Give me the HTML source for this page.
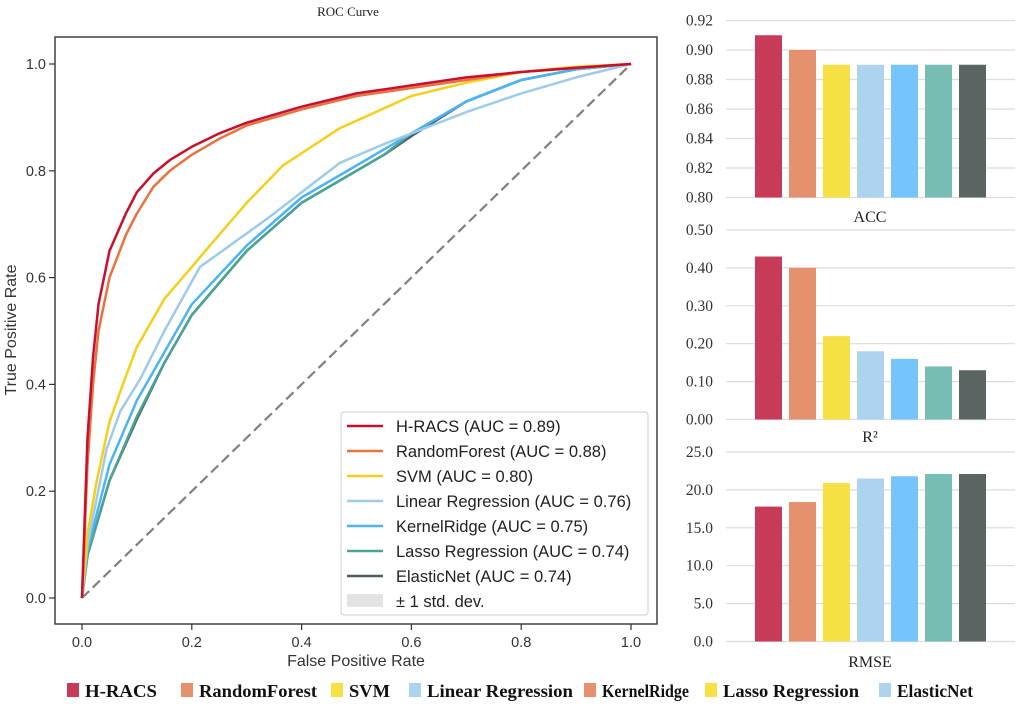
<!DOCTYPE html>
<html><head><meta charset="utf-8">
<style>
html,body{margin:0;padding:0;background:#fff;}
svg{display:block;}
.sans{font-family:"Liberation Sans",sans-serif;}
.serif{font-family:"Liberation Serif",serif;}
</style></head>
<body>
<svg id="chart" width="1020" height="707" viewBox="0 0 1020 707"></svg>
<script>
// ---------- DATA ----------
const rocNames = ["H-RACS","RandomForest","SVM","Linear Regression","KernelRidge","Lasso Regression","ElasticNet"];
const rocAuc = ["0.89","0.88","0.80","0.76","0.75","0.74","0.74"];
const rocColors = ["#c8102e","#e8723e","#f5cf1b","#9ecbe8","#4db3f5","#4aa394","#4d5e5e"];
const fprHRACS = [0,0.005,0.01,0.02,0.03,0.05,0.08,0.1,0.13,0.16,0.2,0.25,0.3,0.4,0.5,0.6,0.7,0.8,0.9,1];
const tprHRACS = [0,0.15,0.3,0.45,0.55,0.65,0.72,0.76,0.795,0.82,0.845,0.87,0.89,0.92,0.945,0.96,0.975,0.985,0.993,1];
const fprRF = [0,0.005,0.01,0.02,0.03,0.05,0.08,0.1,0.13,0.16,0.2,0.25,0.3,0.4,0.5,0.6,0.7,0.8,1];
const tprRF = [0,0.12,0.25,0.4,0.5,0.6,0.68,0.72,0.77,0.8,0.83,0.86,0.885,0.915,0.94,0.955,0.97,0.985,1];
const fprSVM = [0,0.01,0.027,0.05,0.078,0.1,0.15,0.2,0.233,0.3,0.366,0.47,0.6,0.7,0.8,0.9,1];
const tprSVM = [0,0.12,0.22,0.33,0.41,0.47,0.56,0.62,0.66,0.74,0.81,0.88,0.94,0.965,0.985,0.995,1];
const fprLR = [0,0.01,0.045,0.07,0.106,0.15,0.215,0.337,0.47,0.55,0.6,0.7,0.8,0.9,1];
const tprLR = [0,0.1,0.28,0.35,0.41,0.5,0.62,0.71,0.815,0.85,0.87,0.91,0.945,0.975,1];
const fprKR = [0,0.01,0.05,0.1,0.15,0.2,0.3,0.4,0.5,0.6,0.7,0.8,0.9,1];
const tprKR = [0,0.09,0.25,0.37,0.46,0.55,0.66,0.75,0.81,0.87,0.93,0.97,0.99,1];
const fprLasso = [0,0.01,0.05,0.1,0.15,0.2,0.3,0.4,0.5,0.55,0.6,0.7,0.8,0.9,1];
const tprLasso = [0,0.08,0.22,0.34,0.44,0.53,0.65,0.74,0.8,0.83,0.87,0.93,0.97,0.99,1];
const fprEN = [0,0.01,0.05,0.1,0.15,0.2,0.3,0.4,0.5,0.55,0.6,0.7,0.8,0.9,1];
const tprEN = [0,0.08,0.22,0.335,0.44,0.53,0.65,0.74,0.8,0.83,0.865,0.93,0.97,0.99,1];
const rocTicks = [0,0.2,0.4,0.6,0.8,1.0];
const rocTickLabels = ["0.0","0.2","0.4","0.6","0.8","1.0"];

const barColors = ["#c73a58","#e6916e","#f7e044","#aed3ef","#75c5fc","#77bdb4","#5a6463"];
const accValues = [0.91,0.90,0.89,0.89,0.89,0.89,0.89];
const accTicks = [0.80,0.82,0.84,0.86,0.88,0.90,0.92];
const accTickLabels = ["0.80","0.82","0.84","0.86","0.88","0.90","0.92"];
const r2Values = [0.43,0.40,0.22,0.18,0.16,0.14,0.13];
const r2Ticks = [0,0.1,0.2,0.3,0.4,0.5];
const r2TickLabels = ["0.00","0.10","0.20","0.30","0.40","0.50"];
const rmseValues = [17.8,18.4,20.9,21.5,21.8,22.1,22.1];
const rmseTicks = [0,5,10,15,20,25];
const rmseTickLabels = ["0.0","5.0","10.0","15.0","20.0","25.0"];

const legendNames = ["H-RACS","RandomForest","SVM","Linear Regression","KernelRidge","Lasso Regression","ElasticNet"];
const legendColors = ["#c73a58","#e6916e","#f7e044","#aed3ef","#e6916e","#f7e044","#aed3ef"];

// ---------- HELPERS ----------
const svg = document.getElementById('chart');
const NS = 'http://www.w3.org/2000/svg';
function mk(tag, attrs, parent){
  const e = document.createElementNS(NS, tag);
  for (const k in attrs) e.setAttribute(k, attrs[k]);
  (parent||svg).appendChild(e);
  return e;
}

// ---------- ROC ----------
const rx = f => 82 + 549*f;
const ry = t => 598 - 534*t;
const roc = mk('g', {});



let t = mk('text',{x:348,y:16,'text-anchor':'middle','font-size':13,class:'serif',fill:'#222'},roc);
t.textContent='ROC Curve';



rocTicks.forEach((v,i)=>{
  const xt = mk('line',{x1:rx(v),x2:rx(v),y1:624,y2:630,stroke:'#333','stroke-width':1.2},roc);
  
  
  const xl = mk('text',{x:rx(v),y:647,'text-anchor':'middle','font-size':14.5,class:'sans',fill:'#333'},roc);
  xl.textContent = rocTickLabels[i];
  
  
  const yt = mk('line',{x1:49,x2:55,y1:ry(v),y2:ry(v),stroke:'#333','stroke-width':1.2},roc);
  
  
  const yl = mk('text',{x:46,y:ry(v)+5,'text-anchor':'end','font-size':14.5,class:'sans',fill:'#333'},roc);
  yl.textContent = rocTickLabels[i];
  
  
});
t = mk('text',{x:356,y:666,'text-anchor':'middle','font-size':16,class:'sans',fill:'#333'},roc);
t.textContent='False Positive Rate';


t = mk('text',{x:0,y:0,'text-anchor':'middle','font-size':16,class:'sans',fill:'#333',transform:'translate(16,330) rotate(-90)'},roc);
t.textContent='True Positive Rate';



const diag = mk('line',{x1:rx(0),y1:ry(0),x2:rx(1),y2:ry(1),stroke:'#808080','stroke-width':2.2,'stroke-dasharray':'10 5'},roc);



const fprs=[fprHRACS,fprRF,fprSVM,fprLR,fprKR,fprLasso,fprEN];
const tprs=[tprHRACS,tprRF,tprSVM,tprLR,tprKR,tprLasso,tprEN];
for (let s=6;s>=0;s--){
  const pts = fprs[s].map((f,i)=>rx(f).toFixed(1)+','+ry(tprs[s][i]).toFixed(1)).join(' ');
  const pl = mk('polyline',{points:pts,fill:'none',stroke:rocColors[s],'stroke-width':2.5,'stroke-linejoin':'round'},roc);
  
  
}
const frame = mk('rect',{x:55,y:37,width:602,height:587,fill:'none',stroke:'#333','stroke-width':1.4},roc);



// legend
const lg = mk('g',{},roc);


mk('rect',{x:341,y:412,width:307,height:203,rx:3,fill:'#fff','fill-opacity':0.85,stroke:'#ccc','stroke-width':1},lg);
rocNames.forEach((n,i)=>{
  const yy = 426 + i*25;
  const ln = mk('line',{x1:347,x2:383,y1:yy,y2:yy,stroke:rocColors[i],'stroke-width':2.5},lg);
  
  
  const tx = mk('text',{x:396,y:yy+6,'font-size':16.5,class:'sans',fill:'#222'},lg);
  tx.textContent = n+' (AUC = '+rocAuc[i]+')';
  
  
});
const sd = mk('rect',{x:347,y:594,width:36,height:13,fill:'#e3e3e3'},lg);


t = mk('text',{x:396,y:607,'font-size':16.5,class:'sans',fill:'#222'},lg);
t.textContent='± 1 std. dev.';



// ---------- BAR PANELS ----------
function barPanel(name, values, ticks, labels, y0, pxPerUnit, vmin, title, titleY){
  const g = mk('g',{});
  
  
  const yOf = v => y0 - (v - vmin)*pxPerUnit;
  ticks.forEach((v,i)=>{
    const gl = mk('line',{x1:726,x2:1015,y1:yOf(v),y2:yOf(v),stroke:'#dcdcdc','stroke-width':1.2},g);
    
    
    const tl = mk('text',{x:713,y:yOf(v)+5,'text-anchor':'end','font-size':15.5,class:'serif',fill:'#333'},g);
    tl.textContent = labels[i];
    
    
  });
  values.forEach((v,i)=>{
    const x = 755 + i*34;
    const b = mk('rect',{x:x,y:yOf(v),width:27,height:y0-yOf(v),fill:barColors[i]},g);
    
    
  });
  const tt = mk('text',{x:870,y:titleY,'text-anchor':'middle','font-size':16,class:'serif',fill:'#222'},g);
  tt.textContent = title;
  
  
}
barPanel('acc', accValues, accTicks, accTickLabels, 197.5, 1475, 0.80, 'ACC', 222);
barPanel('r2', r2Values, r2Ticks, r2TickLabels, 419.5, 379, 0, 'R²', 442);
barPanel('rmse', rmseValues, rmseTicks, rmseTickLabels, 641.5, 7.58, 0, 'RMSE', 667);

// ---------- BOTTOM LEGEND ----------
const bl = mk('g',{});


const sqX = [67,181,331,409,584,705,879];
const txW = [72,118,41,146,87,136,76];
legendNames.forEach((n,i)=>{
  const sq = mk('rect',{x:sqX[i],y:683,width:12,height:14,fill:legendColors[i]},bl);
  
  
  const tx = mk('text',{x:sqX[i]+18,y:697,'font-size':18,'font-weight':'bold',class:'serif',fill:'#111',textLength:txW[i],lengthAdjust:'spacingAndGlyphs'},bl);
  tx.textContent = n;
  
  
});
</script>
</body></html>
